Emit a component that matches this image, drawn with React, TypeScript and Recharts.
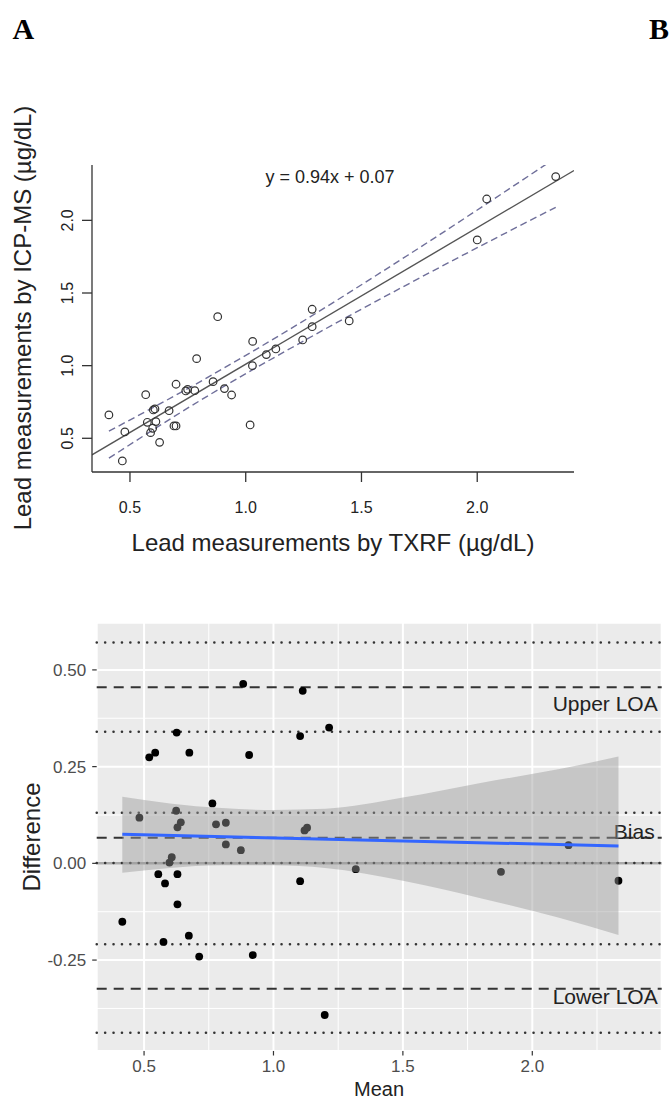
import {
  ComposedChart, Scatter, Line, Area, XAxis, YAxis, CartesianGrid, ReferenceLine,
} from "recharts";

// ── Panel A: TXRF vs ICP-MS ───────────────────────────────────────────────────

const txrf = [
  0.409, 0.467, 0.478, 0.568, 0.575, 0.589, 0.598, 0.601, 0.608, 0.612,
  0.628, 0.669, 0.690, 0.699, 0.699, 0.741, 0.749, 0.780, 0.788, 0.859,
  0.879, 0.908, 0.939, 1.019, 1.029, 1.030, 1.089, 1.130, 1.246, 1.287,
  1.287, 1.447, 2.000, 2.041, 2.339,
];
const icpms = [
  0.661, 0.344, 0.544, 0.800, 0.610, 0.539, 0.569, 0.695, 0.702, 0.615,
  0.472, 0.690, 0.585, 0.585, 0.872, 0.826, 0.837, 0.828, 1.048, 0.890,
  1.337, 0.842, 0.798, 0.592, 1.000, 1.167, 1.076, 1.115, 1.177, 1.268,
  1.388, 1.308, 1.865, 2.147, 2.301,
];
const fitX = [0.336, 2.418];
const fitY = [0.386, 2.343];
const bandX = [0.409, 0.8, 1.2, 1.7, 2.339];
const bandUpper = [0.549, 0.887, 1.260, 1.760, 2.430];
const bandLower = [0.363, 0.757, 1.125, 1.560, 2.090];
const topTicks = [0.5, 1.0, 1.5, 2.0];

// ── Panel B: Bland-Altman ─────────────────────────────────────────────────────

const baMean = [
  0.416, 0.482, 0.520, 0.543, 0.555, 0.575, 0.581, 0.598, 0.607, 0.624,
  0.626, 0.629, 0.642, 0.629, 0.629, 0.673, 0.675, 0.713, 0.764, 0.778,
  0.816, 0.816, 0.874, 0.883, 0.906, 0.920, 1.103, 1.103, 1.113, 1.120,
  1.130, 1.198, 1.215, 1.318, 1.879, 2.140, 2.333,
];
const baDiff = [
  -0.151, 0.118, 0.274, 0.286, -0.028, -0.203, -0.052, 0.002, 0.016, 0.136,
  0.338, 0.093, 0.106, -0.028, -0.106, -0.187, 0.286, -0.241, 0.155, 0.101,
  0.105, 0.049, 0.034, 0.464, 0.280, -0.237, 0.329, -0.046, 0.446, 0.085,
  0.092, -0.392, 0.351, -0.015, -0.022, 0.047, -0.045,
];
const trendX = [0.416, 2.333];
const trendY = [0.075, 0.045];
const ciX = [0.416, 0.6, 0.8, 1.0, 1.2, 1.5, 1.8, 2.1, 2.333];
const ciLow = [-0.024, -0.012, -0.005, -0.005, -0.012, -0.045, -0.090, -0.140, -0.185];
const ciHigh = [0.172, 0.155, 0.143, 0.138, 0.141, 0.170, 0.208, 0.243, 0.276];
const upperLoa = 0.455;
const bias = 0.066;
const lowerLoa = -0.324;
const loaCi = [0.571, 0.340, 0.131, 0.001, -0.209, -0.438];
const baXTicks = [0.5, 1.0, 1.5, 2.0];
const baYTicks = [-0.25, 0, 0.25, 0.5];
const baXMinor = [0.75, 1.25, 1.75, 2.25];
const baYMinor = [-0.375, -0.125, 0.125, 0.375];

const FONT = "'Liberation Sans', Arial, Helvetica, sans-serif";

const scatterA = txrf.map((x, i) => ({ x, y: icpms[i] }));
const fitA = fitX.map((x, i) => ({ x, y: fitY[i] }));
const upperA = bandX.map((x, i) => ({ x, y: bandUpper[i] }));
const lowerA = bandX.map((x, i) => ({ x, y: bandLower[i] }));

const scatterB = baMean.map((x, i) => ({ x, y: baDiff[i] }));
const trendB = trendX.map((x, i) => ({ x, y: trendY[i] }));
const ribbonB = ciX.map((x, i) => ({ x, band: [ciLow[i], ciHigh[i]] }));

// ── Ticks ─────────────────────────────────────────────────────────────────────

function TopXTick({ x, y, payload }: any) {
  return (
    <text x={x} y={y} dy="0.35em" textAnchor="middle" fontSize={16} fill="#222" fontFamily={FONT}>
      {Number(payload.value).toFixed(1)}
    </text>
  );
}

function TopYTick({ x, y, payload }: any) {
  return (
    <text x={x} y={y} dy="0.35em" textAnchor="middle" fontSize={16} fill="#222" fontFamily={FONT}
      transform={`rotate(-90 ${x} ${y})`}>
      {Number(payload.value).toFixed(1)}
    </text>
  );
}

function BaXTick({ x, y, payload }: any) {
  return (
    <text x={x} y={y} dy="0.35em" textAnchor="middle" fontSize={17} fill="#4d4d4d" fontFamily={FONT}>
      {Number(payload.value).toFixed(1)}
    </text>
  );
}

function BaYTick({ x, y, payload }: any) {
  return (
    <text x={x} y={y} dy="0.35em" textAnchor="end" fontSize={17} fill="#4d4d4d" fontFamily={FONT}>
      {Number(payload.value).toFixed(2)}
    </text>
  );
}

function loaLabel(text: string, dy: number, inset: number) {
  return (p: any) => {
    const vb = p.viewBox;
    return (
      <text x={vb.x + vb.width - inset} y={vb.y + dy} dy="0.35em" textAnchor="end"
        fontSize={21} fill="#222" fontFamily={FONT}>
        {text}
      </text>
    );
  };
}

const dotted = { stroke: "#333", strokeWidth: 2.5, strokeDasharray: "0.1 8.3", strokeLinecap: "round" as const };
const dashed = { stroke: "#333", strokeWidth: 2, strokeDasharray: "10 7" };

// ── Component ─────────────────────────────────────────────────────────────────

export default function App() {
  return (
    <div style={{ position: "absolute", left: 0, top: 0, width: 669, height: 1101, background: "#fff", overflow: "hidden", fontFamily: FONT }}>
      <div style={{ position: "absolute", left: 0, top: 0 }}>
        <ComposedChart width={669} height={560} margin={{ top: 165, right: 95, bottom: 38, left: 32 }}>
          <XAxis
            type="number" dataKey="x" domain={[0.336, 2.418]} allowDataOverflow ticks={topTicks}
            height={50} tickSize={10} tickMargin={25.7}
            axisLine={{ stroke: "#333", strokeWidth: 1.3 }} tickLine={{ stroke: "#333", strokeWidth: 1.3 }}
            tick={(p: any) => <TopXTick {...p} />}
          />
          <YAxis
            type="number" domain={[0.268, 2.381]} allowDataOverflow ticks={topTicks}
            width={60} tickSize={10} tickMargin={15}
            axisLine={{ stroke: "#333", strokeWidth: 1.3 }} tickLine={{ stroke: "#333", strokeWidth: 1.3 }}
            tick={(p: any) => <TopYTick {...p} />}
          />
          <Line data={fitA} dataKey="y" type="linear" stroke="#555" strokeWidth={1.4} dot={false} activeDot={false} isAnimationActive={false} />
          <Line data={upperA} dataKey="y" type="monotone" stroke="#6f6f9a" strokeWidth={1.4} strokeDasharray="7 4" dot={false} activeDot={false} isAnimationActive={false} />
          <Line data={lowerA} dataKey="y" type="monotone" stroke="#6f6f9a" strokeWidth={1.4} strokeDasharray="7 4" dot={false} activeDot={false} isAnimationActive={false} />
          <Scatter
            data={scatterA} dataKey="y" isAnimationActive={false}
            shape={(p: any) => <circle cx={p.cx} cy={p.cy} r={3.8} fill="none" stroke="#333" strokeWidth={1.2} />}
          />
        </ComposedChart>
      </div>

      <div style={{ position: "absolute", left: 0, top: 560 }}>
        <ComposedChart width={669} height={541} margin={{ top: 62.7, right: 7.3, bottom: 20, left: 56.7 }}>
          <CartesianGrid stroke="#fff" strokeWidth={2} fill="#ebebeb" />
          <CartesianGrid stroke="#fff" strokeWidth={1} horizontalValues={baYMinor} verticalValues={baXMinor} />
          <XAxis
            type="number" dataKey="x" domain={[0.317, 2.5]} allowDataOverflow ticks={baXTicks}
            height={30} tickSize={4.5} tickMargin={11} axisLine={false}
            tickLine={{ stroke: "#333", strokeWidth: 1.2 }}
            tick={(p: any) => <BaXTick {...p} />}
          />
          <YAxis
            type="number" domain={[-0.485, 0.622]} allowDataOverflow ticks={baYTicks}
            width={40} tickSize={4.5} tickMargin={6} axisLine={false}
            tickLine={{ stroke: "#333", strokeWidth: 1.2 }}
            tick={(p: any) => <BaYTick {...p} />}
          />
          <ReferenceLine y={0} stroke="#a9a9a9" strokeWidth={2.5} />
          {loaCi.map((v) => (
            <ReferenceLine key={v} y={v} {...dotted} />
          ))}
          <ReferenceLine y={upperLoa} {...dashed} label={loaLabel("Upper LOA", 16, 4)} />
          <ReferenceLine y={bias} {...dashed} label={loaLabel("Bias", -6, 7)} />
          <ReferenceLine y={lowerLoa} {...dashed} label={loaLabel("Lower LOA", 8, 4)} />
          <Scatter
            data={scatterB} dataKey="y" isAnimationActive={false}
            shape={(p: any) => <circle cx={p.cx} cy={p.cy} r={3.9} fill="#000" />}
          />
          <Area
            data={ribbonB} dataKey="band" type="monotone" stroke="none" fill="#999999" fillOpacity={0.45}
            isAnimationActive={false} activeDot={false} zIndex={700}
          />
          <Line
            data={trendB} dataKey="y" type="linear" stroke="#3366ff" strokeWidth={3} dot={false} activeDot={false}
            isAnimationActive={false} zIndex={800}
          />
        </ComposedChart>
      </div>

      <svg width={669} height={1101} style={{ position: "absolute", left: 0, top: 0, pointerEvents: "none" }}>
        <text x={12.5} y={38.5} fontSize={30} fontWeight="bold" fontFamily="'Liberation Serif', 'Times New Roman', serif" fill="#000">A</text>
        <text x={649} y={38.5} fontSize={30} fontWeight="bold" fontFamily="'Liberation Serif', 'Times New Roman', serif" fill="#000">B</text>
        <text x={330} y={183} textAnchor="middle" fontSize={18} fill="#222" fontFamily={FONT}>y = 0.94x + 0.07</text>
        <text x={333} y={551} textAnchor="middle" fontSize={24} fill="#222" fontFamily={FONT}>Lead measurements by TXRF (µg/dL)</text>
        <text x={31} y={318} textAnchor="middle" fontSize={24} fill="#222" fontFamily={FONT} transform="rotate(-90 31 318)">
          Lead measurements by ICP-MS (µg/dL)
        </text>
        <text x={379} y={1096} textAnchor="middle" fontSize={20} fill="#222" fontFamily={FONT}>Mean</text>
        <text x={40} y={837} textAnchor="middle" fontSize={24} fill="#222" fontFamily={FONT} transform="rotate(-90 40 837)">
          Difference
        </text>
      </svg>
    </div>
  );
}
